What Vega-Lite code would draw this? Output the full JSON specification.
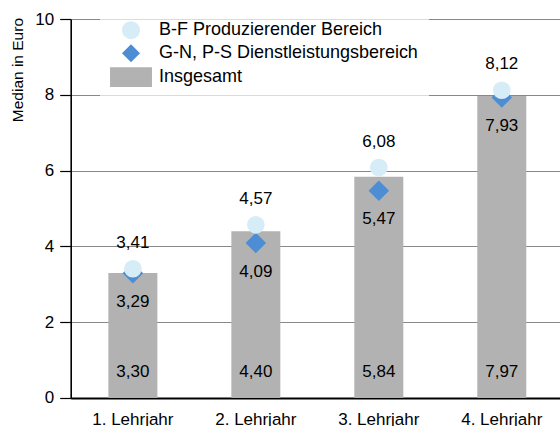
{
  "$schema": "https://vega.github.io/schema/vega-lite/v6.json",
  "width": 489,
  "height": 379,
  "autosize": {"type": "none"},
  "padding": {"left": 70.7, "top": 19, "right": 0, "bottom": 28},
  "background": "white",
  "config": {
    "locale": {"number": {"decimal": ",", "thousands": ".", "grouping": [3], "currency": ["", " €"]}},
    "font": "Liberation Sans",
    "view": {"stroke": null}
  },
  "data": {
    "values": [
      {"jahr": "1. Lehrjahr", "reihe": "B-F Produzierender Bereich", "wert": 3.41},
      {"jahr": "2. Lehrjahr", "reihe": "B-F Produzierender Bereich", "wert": 4.57},
      {"jahr": "3. Lehrjahr", "reihe": "B-F Produzierender Bereich", "wert": 6.08},
      {"jahr": "4. Lehrjahr", "reihe": "B-F Produzierender Bereich", "wert": 8.12},
      {"jahr": "1. Lehrjahr", "reihe": "G-N, P-S Dienstleistungsbereich", "wert": 3.29},
      {"jahr": "2. Lehrjahr", "reihe": "G-N, P-S Dienstleistungsbereich", "wert": 4.09},
      {"jahr": "3. Lehrjahr", "reihe": "G-N, P-S Dienstleistungsbereich", "wert": 5.47},
      {"jahr": "4. Lehrjahr", "reihe": "G-N, P-S Dienstleistungsbereich", "wert": 7.93},
      {"jahr": "1. Lehrjahr", "reihe": "Insgesamt", "wert": 3.30},
      {"jahr": "2. Lehrjahr", "reihe": "Insgesamt", "wert": 4.40},
      {"jahr": "3. Lehrjahr", "reihe": "Insgesamt", "wert": 5.84},
      {"jahr": "4. Lehrjahr", "reihe": "Insgesamt", "wert": 7.97}
    ]
  },
  "encoding": {
    "x": {
      "field": "jahr",
      "type": "nominal",
      "sort": null,
      "scale": {"paddingInner": 0.6016, "paddingOuter": 0.289, "align": 0.53},
      "axis": {
        "title": null,
        "labelAngle": 0,
        "labelFontSize": 17,
        "labelColor": "black",
        "labelPadding": 14,
        "ticks": false,
        "tickSize": 0,
        "domainColor": "black",
        "domainWidth": 2,
        "grid": false
      }
    }
  },
  "layer": [
    {
      "transform": [{"filter": "datum.reihe === 'Insgesamt'"}],
      "mark": {"type": "bar"},
      "encoding": {
        "y": {
          "field": "wert",
          "type": "quantitative",
          "scale": {"domain": [0, 10], "nice": false},
          "axis": {
            "values": [0, 2, 4, 6, 8, 10],
            "title": "Median in Euro",
            "titleFontSize": 15.5,
            "titleFontWeight": "normal",
            "titleColor": "black",
            "titleAngle": -90,
            "titleAlign": "right",
            "titleBaseline": "middle",
            "titleX": -52.7,
            "titleY": -1.5,
            "labelFontSize": 17,
            "labelColor": "black",
            "labelPadding": 6,
            "tickSize": 11,
            "tickColor": "black",
            "tickWidth": 1.2,
            "domainColor": "black",
            "domainWidth": 1.6,
            "grid": true,
            "gridColor": "#888888",
            "gridWidth": 1,
            "encode": {"grid": {"update": {"strokeOpacity": {"signal": "datum.value === 10 || datum.value === 0 ? 0 : 1"}}}}
          }
        },
        "fill": {
          "field": "reihe",
          "type": "nominal",
          "scale": {
            "domain": ["B-F Produzierender Bereich", "G-N, P-S Dienstleistungsbereich", "Insgesamt"],
            "range": ["#d6ecf6", "#4d8dd4", "#b2b2b2"]
          },
          "legend": {
            "title": null,
            "orient": "none",
            "legendX": 29.3,
            "legendY": -7.8,
            "fillColor": "rgba(255,255,255,0.7)",
            "padding": 10,
            "symbolSize": 324,
            "symbolOffset": 12,
            "labelOffset": 19,
            "labelFontSize": 18,
            "labelColor": "black",
            "labelLimit": 400,
            "rowPadding": 5,
            "symbolStrokeWidth": 0,
            "symbolOpacity": 1
          }
        }
      }
    },
    {
      "transform": [{"filter": "datum.reihe === 'G-N, P-S Dienstleistungsbereich'"}],
      "mark": {"type": "point", "filled": true, "opacity": 1, "size": 420},
      "encoding": {
        "y": {"field": "wert", "type": "quantitative"},
        "fill": {"field": "reihe", "type": "nominal"},
        "shape": {
          "field": "reihe",
          "type": "nominal",
          "scale": {
            "domain": ["B-F Produzierender Bereich", "G-N, P-S Dienstleistungsbereich", "Insgesamt"],
            "range": ["circle", "diamond", "M-2.33,-1.1H2.33V1.1H-2.33Z"]
          },
          "legend": {
            "title": null,
            "orient": "none",
            "legendX": 29.3,
            "legendY": -7.8,
            "fillColor": "rgba(255,255,255,0.7)",
            "padding": 10,
            "symbolSize": 324,
            "symbolOffset": 12,
            "labelOffset": 19,
            "labelFontSize": 18,
            "labelColor": "black",
            "labelLimit": 400,
            "rowPadding": 5,
            "symbolStrokeWidth": 0,
            "symbolOpacity": 1
          }
        }
      }
    },
    {
      "transform": [{"filter": "datum.reihe === 'B-F Produzierender Bereich'"}],
      "mark": {"type": "point", "filled": true, "opacity": 1, "size": 314},
      "encoding": {
        "y": {"field": "wert", "type": "quantitative"},
        "fill": {"field": "reihe", "type": "nominal"},
        "shape": {"field": "reihe", "type": "nominal"}
      }
    },
    {
      "transform": [{"filter": "datum.reihe === 'B-F Produzierender Bereich'"}],
      "mark": {"type": "text", "fontSize": 17, "dy": -26, "color": "black"},
      "encoding": {
        "y": {"field": "wert", "type": "quantitative"},
        "text": {"field": "wert", "type": "quantitative", "format": ".2f"}
      }
    },
    {
      "transform": [{"filter": "datum.reihe === 'G-N, P-S Dienstleistungsbereich'"}],
      "mark": {"type": "text", "fontSize": 17, "dy": 28.7, "color": "black"},
      "encoding": {
        "y": {"field": "wert", "type": "quantitative"},
        "text": {"field": "wert", "type": "quantitative", "format": ".2f"}
      }
    },
    {
      "transform": [{"filter": "datum.reihe === 'Insgesamt'"}],
      "mark": {"type": "text", "fontSize": 17, "dy": -26, "color": "black"},
      "encoding": {
        "y": {"datum": 0, "type": "quantitative"},
        "text": {"field": "wert", "type": "quantitative", "format": ".2f"}
      }
    }
  ]
}
